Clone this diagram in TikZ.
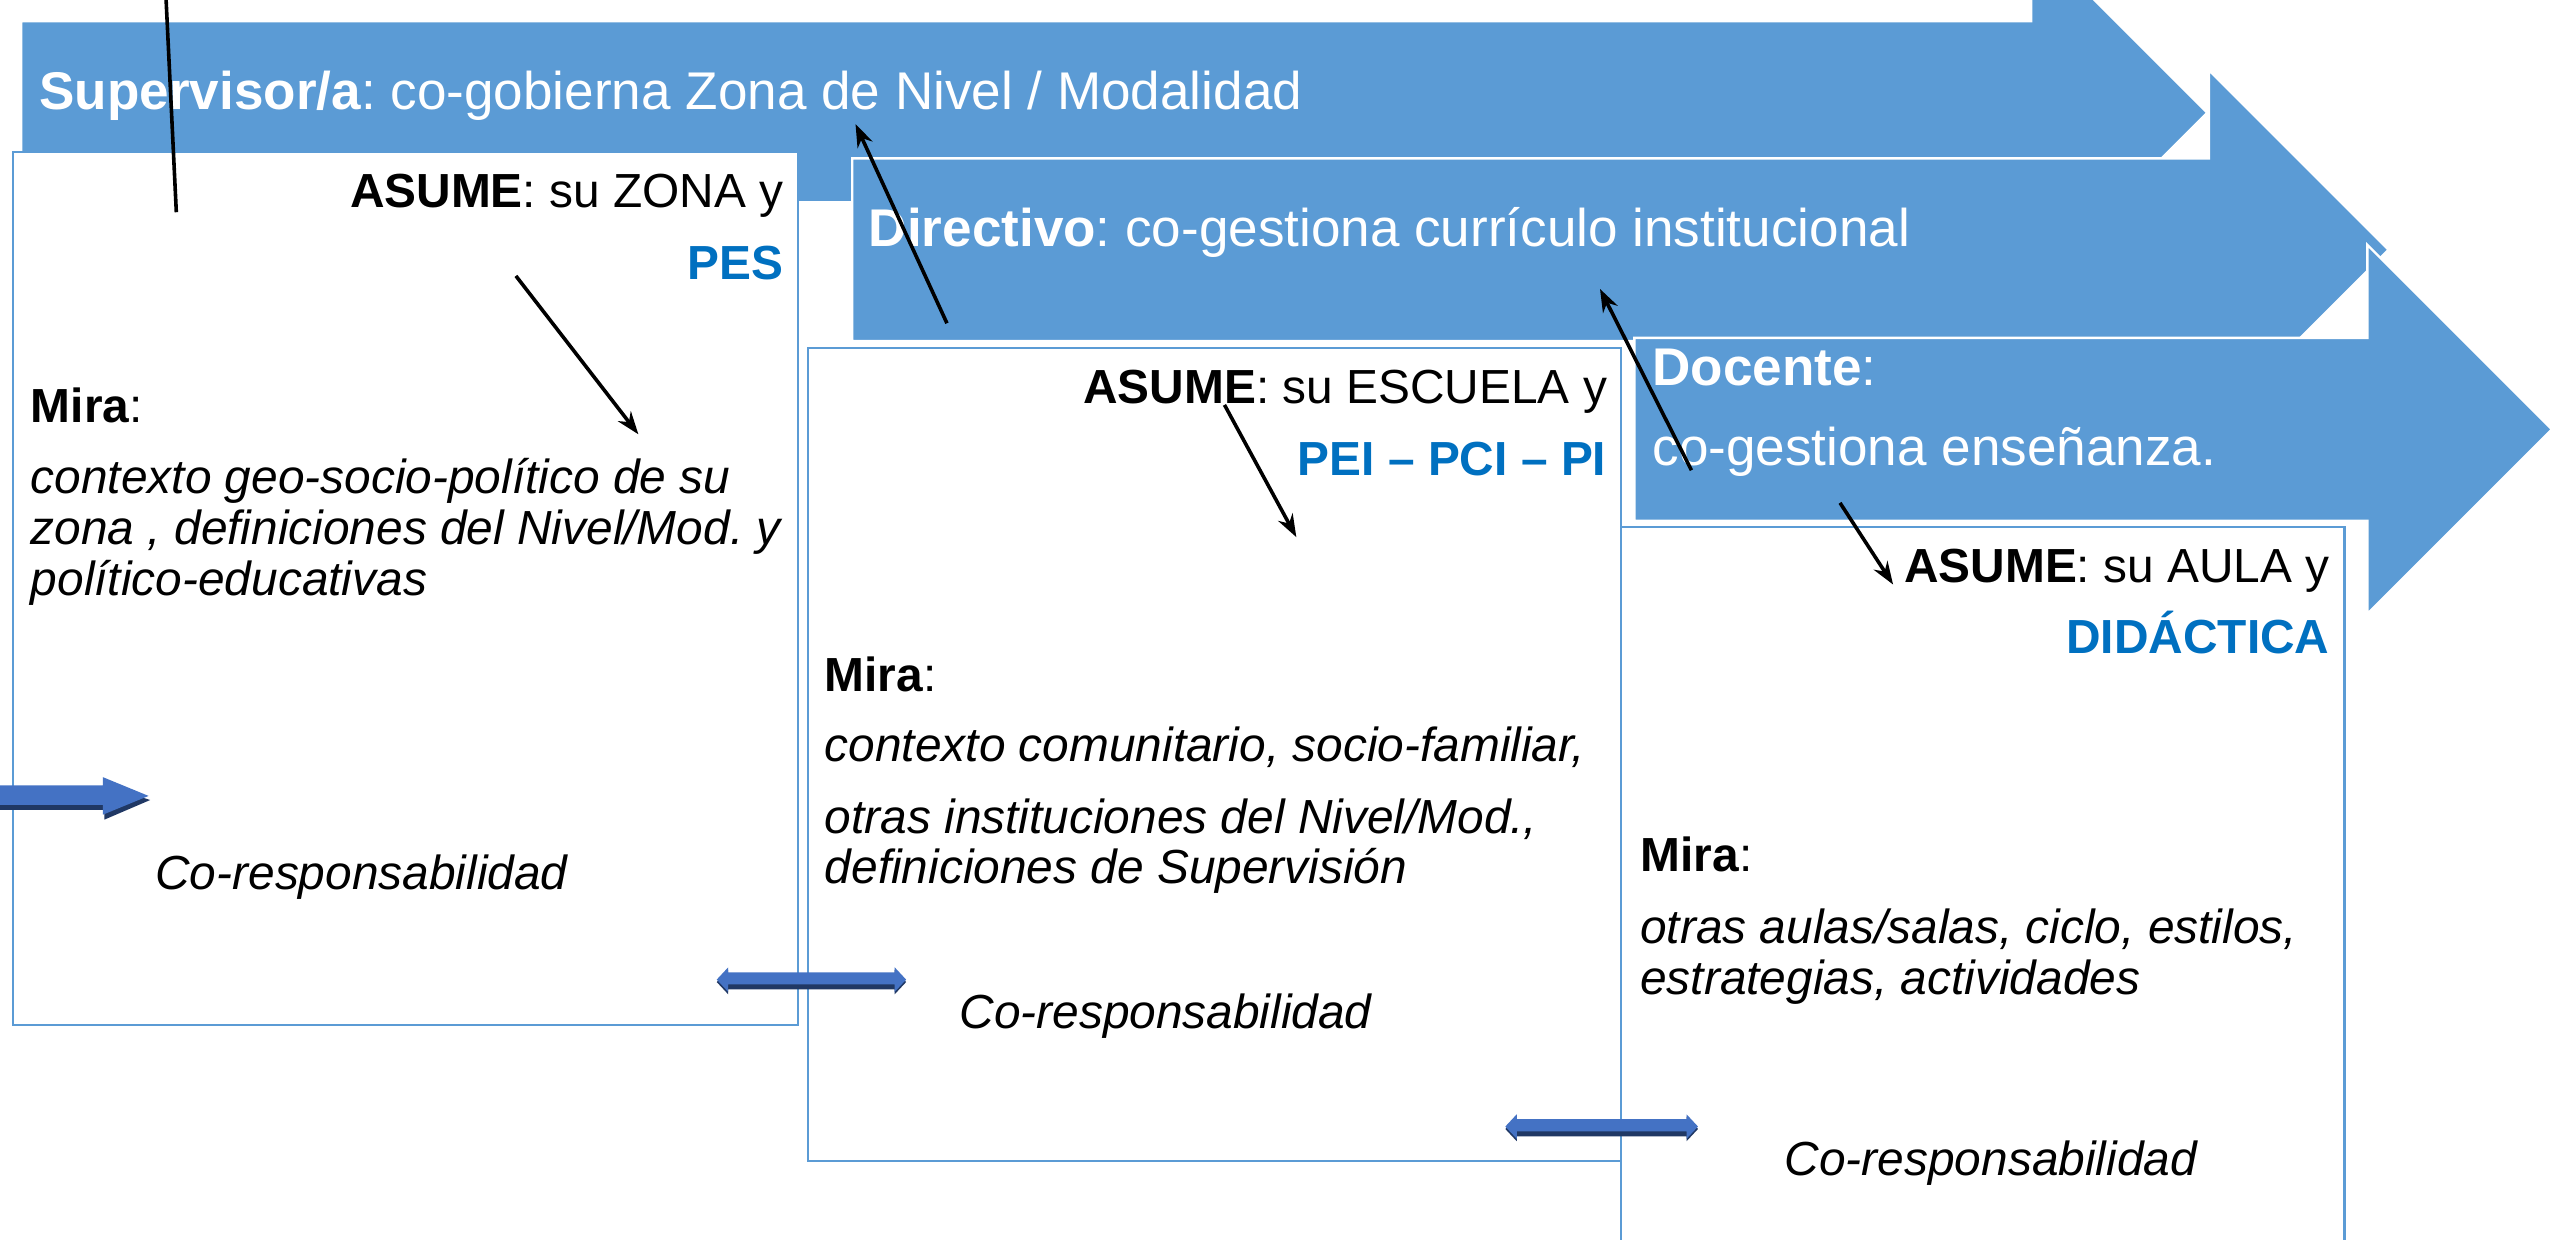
\documentclass[tikz,border=0pt]{standalone}
\usepackage{fontspec}
\setmainfont{Liberation Sans}
\usepackage{xcolor}
\usepackage{tikz}
\usetikzlibrary{calc}
\usetikzlibrary{positioning}
\usetikzlibrary{arrows.meta}
\definecolor{azulflecha}{HTML}{5B9BD5}
\definecolor{azultexto}{HTML}{0070C0}
\definecolor{azulbloque}{HTML}{4472C4}
\definecolor{azulsombra}{HTML}{203864}
\frenchspacing

\tikzset{
	flecha/.style={fill=azulflecha, draw=white, line width=1.5pt},
	caja/.style={fill=white, draw=azulflecha, line width=1.3pt},
	tflecha/.style={text=white, inner sep=0pt, anchor=base west, font=\fontsize{32.5}{39}\selectfont},
	tcaja/.style={inner sep=0pt, font=\fontsize{29.3}{35}\selectfont},
	tmira/.style={inner sep=0pt, anchor=base west, font=\fontsize{29.3}{35}\selectfont\itshape},
	enlace/.style={line width=2.2pt, -{Stealth[length=14pt,width=10pt]}},
}

\begin{document}
\begin{tikzpicture}[x=1pt,y=-1pt]
	\useasboundingbox (0,0) rectangle (1568,759);
	% supervisor
	\filldraw[flecha] (13,13) -- (1244,13) -- (1244,-39) -- (1352,69) -- (1244,177) -- (1244,124) -- (13,124) -- cycle;
	\filldraw[caja] (8,93) rectangle (489,628);
	% directivo
	\filldraw[flecha] (522,97) -- (1353,97) -- (1353,43) -- (1463,153) -- (1353,263) -- (1353,209) -- (522,209) -- cycle;
	\filldraw[caja] (495,213) rectangle (993,711);
	% docente
	\filldraw[flecha] (1001,207) -- (1450,207) -- (1450,150) -- (1563,263) -- (1450,376) -- (1450,319) -- (1001,319) -- cycle;
	\filldraw[caja] (993,323) rectangle (1436,780);

	\node[tflecha] (sup) at (24,67) {\textbf{Supervisor/a}: co-gobierna Zona de Nivel / Modalidad};
	\node[tflecha] (dir) at (532,151) {\textbf{Directivo}: co-gestiona currículo institucional};
	\node[tflecha] (doc) at (1012,236) {\textbf{Docente}:};
	\node[tflecha] (docb) at (1012,285) {co-gestiona enseñanza.};

	\node[tcaja, anchor=base east] (asumeA) at (480,127) {\textbf{ASUME}: su ZONA y};
	\node[tcaja, anchor=base east, text=azultexto] (pes) at (480,171) {\textbf{PES}};
	\node[tcaja, anchor=base west] (miraA) at (18.7,259) {\textbf{Mira}:};
	\node[tmira] (miraA1) at (18.7,302) {contexto geo-socio-político de su};
	\node[tmira] (miraA2) at (18.7,333.5) {zona , definiciones del Nivel/Mod. y};
	\node[tmira] (miraA3) at (18.7,364.5) {político-educativas};
	\node[tmira] (coA) at (95,545) {Co-responsabilidad};

	\node[tcaja, anchor=base east] (asumeB) at (984.5,247) {\textbf{ASUME}: su ESCUELA y};
	\node[tcaja, anchor=base east, text=azultexto] (pei) at (984,291) {\textbf{PEI – PCI – PI}};
	\node[tcaja, anchor=base west] (miraB) at (505,423.5) {\textbf{Mira}:};
	\node[tmira] (miraB1) at (505,466.5) {contexto comunitario, socio-familiar,};
	\node[tmira] (miraB2) at (505,510.5) {otras instituciones del Nivel/Mod.,};
	\node[tmira] (miraB3) at (505,541) {definiciones de Supervisión};
	\node[tmira] (coB) at (587.5,630) {Co-responsabilidad};

	\node[tcaja, anchor=base east] (asumeC) at (1427,356.5) {\textbf{ASUME}: su AULA y};
	\node[tcaja, anchor=base east, text=azultexto] (dida) at (1427,400.5) {\textbf{DIDÁCTICA}};
	\node[tcaja, anchor=base west] (miraC) at (1004.5,534) {\textbf{Mira}:};
	\node[tmira] (miraC1) at (1004.5,578) {otras aulas/salas, ciclo, estilos,};
	\node[tmira] (miraC2) at (1004.5,609) {estrategias, actividades};
	\node[tmira] (coC) at (1093,720) {Co-responsabilidad};

	% flechas negras
	\coordinate (lA1) at (101.5,-5);
	\coordinate (lA2) at (108,130);
	\draw[line width=2.2pt] (lA1) -- (lA2);
	\coordinate (lB1) at (316,169);
	\coordinate (lB2) at (391,266);
	\draw[enlace] (lB1) -- (lB2);
	\coordinate (lC1) at (580,198);
	\coordinate (lC2) at (524,76);
	\draw[enlace] (lC1) -- (lC2);
	\coordinate (lD1) at (750,248);
	\coordinate (lD2) at (794,329);
	\draw[enlace] (lD1) -- (lD2);
	\coordinate (lE1) at (1036,288);
	\coordinate (lE2) at (980,177);
	\draw[enlace] (lE1) -- (lE2);
	\coordinate (lF1) at (1127,308);
	\coordinate (lF2) at (1159.5,358);
	\draw[enlace] (lF1) -- (lF2);

	% flechas azules
	\fill[azulsombra] (-5,486) -- (64,486) -- (64,481) -- (92,490) -- (64,502) -- (64,496) -- (-5,496) -- cycle;
	\fill[azulbloque] (-5,481) -- (63,481) -- (63,476) -- (91,487.5) -- (63,499) -- (63,493) -- (-5,493) -- cycle;
	\foreach \xa/\xb/\yc in {439/555/600, 922/1040/690}{
		\fill[azulsombra] (\xa,\yc+1.5) -- (\xa+7,\yc-6) -- (\xa+7,\yc-3) -- (\xb-7,\yc-3) -- (\xb-7,\yc-6) -- (\xb,\yc+1.5) -- (\xb-7,\yc+9) -- (\xb-7,\yc+6) -- (\xa+7,\yc+6) -- (\xa+7,\yc+9) -- cycle;
		\fill[azulbloque] (\xa,\yc) -- (\xa+7,\yc-7.5) -- (\xa+7,\yc-4.5) -- (\xb-7,\yc-4.5) -- (\xb-7,\yc-7.5) -- (\xb,\yc) -- (\xb-7,\yc+7.5) -- (\xb-7,\yc+3) -- (\xa+7,\yc+3) -- (\xa+7,\yc+7.5) -- cycle;
	}
\end{tikzpicture}
\end{document}
